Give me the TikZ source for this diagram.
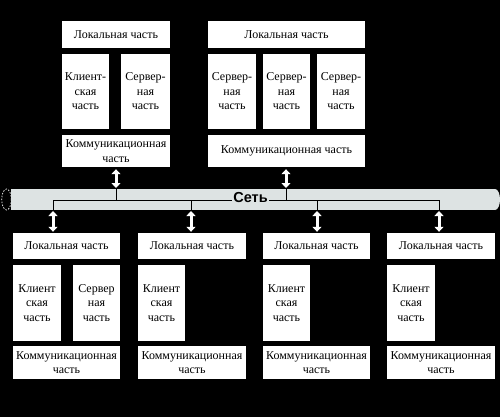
\documentclass[tikz,border=0pt]{standalone}
\usepackage{fontspec}
\setmainfont{Liberation Serif}
\newfontfamily\boxfont{Liberation Serif}
\newfontfamily\netfont{Liberation Sans}
\usetikzlibrary{arrows.meta}
\definecolor{tubegray}{HTML}{DDE3E3}
\begin{document}
\begin{tikzpicture}[x=1pt,y=-1pt,
  box/.style={fill=white, inner sep=0pt, align=center, text=black,
    font=\boxfont\fontsize{12}{14.5}\selectfont},
  dbl/.style={white, line width=3pt,
    {Triangle[width=9pt,length=5pt]}-{Triangle[width=9pt,length=5pt]}},
  busline/.style={black, line width=0.8pt}]
\fill[black] (0,0) rectangle (500,417);
\useasboundingbox (0,0) rectangle (500,417);
% ---- top left group
\node[box, minimum width=108pt, minimum height=27pt] (L1) at (116,34.5) {Локальная часть};
\node[box, minimum width=47pt, minimum height=75pt] (C1) at (85.5,91.5) {Клиент-\\ская\\часть};
\node[box, minimum width=49pt, minimum height=75pt] (S1) at (145.5,91.5) {Сервер-\\ная\\часть};
\node[box, minimum width=108pt, minimum height=32pt] (K1) at (116,151) {Коммуникационная\\часть};
% ---- top right group
\node[box, minimum width=157pt, minimum height=27pt] (L2) at (286.5,34.5) {Локальная часть};
\node[box, minimum width=48pt, minimum height=75pt] (S2a) at (232,91.5) {Сервер-\\ная\\часть};
\node[box, minimum width=47pt, minimum height=75pt] (S2b) at (286.5,91.5) {Сервер-\\ная\\часть};
\node[box, minimum width=48pt, minimum height=75pt] (S2c) at (341,91.5) {Сервер-\\ная\\часть};
\node[box, minimum width=157pt, minimum height=32pt] (K2) at (286.5,151) {Коммуникационная часть};
% ---- network tube
\fill[black] (6.5,199.5) ellipse[x radius=4.8, y radius=10.5];
\draw[white, dash pattern=on 1.5pt off 1.5pt, line width=0.7pt] (6.5,199.5) ellipse[x radius=4.8, y radius=10.5];
\fill[tubegray] (11.3,189) rectangle (495,210);
\fill[tubegray] (495,199.5) ellipse[x radius=5, y radius=10.5];
\coordinate (ttop) at (0,189);
\coordinate (tbot) at (0,210);
\coordinate (d1) at (53,200);
\coordinate (d2) at (191,200);
\coordinate (d3) at (317,200);
\coordinate (d4) at (439,200);
\coordinate (u1) at (116,200);
\coordinate (u2) at (286,200);
\draw[busline] (d1) -- (d4);
\draw[busline] (u1) -- (u1 |- ttop);
\draw[busline] (u2) -- (u2 |- ttop);
\foreach \d in {d1,d2,d3,d4} \draw[busline] (\d) -- (\d |- tbot);
\node[fill=tubegray, inner sep=1pt, font=\netfont\bfseries\fontsize{14.5}{14.5}\selectfont] (net) at (250.5,198) {Сеть};
% ---- bottom groups
\node[box, minimum width=107pt, minimum height=26pt] (B1L) at (66.5,246) {Локальная часть};
\node[box, minimum width=48pt, minimum height=76pt] (B1C) at (37,303) {Клиент\\ская\\часть};
\node[box, minimum width=47pt, minimum height=76pt] (B1S) at (96.5,303) {Сервер\\ная\\часть};
\node[box, minimum width=107pt, minimum height=33pt] (B1K) at (66.5,362.5) {Коммуникационная\\часть};

\node[box, minimum width=108pt, minimum height=26pt] (B2L) at (192,246) {Локальная часть};
\node[box, minimum width=47pt, minimum height=76pt] (B2C) at (161.5,303) {Клиент\\ская\\часть};
\node[box, minimum width=108pt, minimum height=33pt] (B2K) at (192,362.5) {Коммуникационная\\часть};

\node[box, minimum width=107pt, minimum height=26pt] (B3L) at (316.5,246) {Локальная часть};
\node[box, minimum width=47pt, minimum height=76pt] (B3C) at (286.5,303) {Клиент\\ская\\часть};
\node[box, minimum width=107pt, minimum height=33pt] (B3K) at (316.5,362.5) {Коммуникационная\\часть};

\node[box, minimum width=108pt, minimum height=26pt] (B4L) at (441,246) {Локальная часть};
\node[box, minimum width=48pt, minimum height=76pt] (B4C) at (411,303) {Клиент\\ская\\часть};
\node[box, minimum width=108pt, minimum height=33pt] (B4K) at (441,362.5) {Коммуникационная\\часть};
% ---- arrows
\draw[dbl] ([yshift=-2pt]K1.south -| u1) -- ([yshift=1pt]u1 |- ttop);
\draw[dbl] ([yshift=-2pt]K2.south -| u2) -- ([yshift=1pt]u2 |- ttop);
\draw[dbl] ([yshift=-1pt]d1 |- tbot) -- ([yshift=1pt]B1L.north -| d1);
\draw[dbl] ([yshift=-1pt]d2 |- tbot) -- ([yshift=1pt]B2L.north -| d2);
\draw[dbl] ([yshift=-1pt]d3 |- tbot) -- ([yshift=1pt]B3L.north -| d3);
\draw[dbl] ([yshift=-1pt]d4 |- tbot) -- ([yshift=1pt]B4L.north -| d4);
\end{tikzpicture}
\end{document}
